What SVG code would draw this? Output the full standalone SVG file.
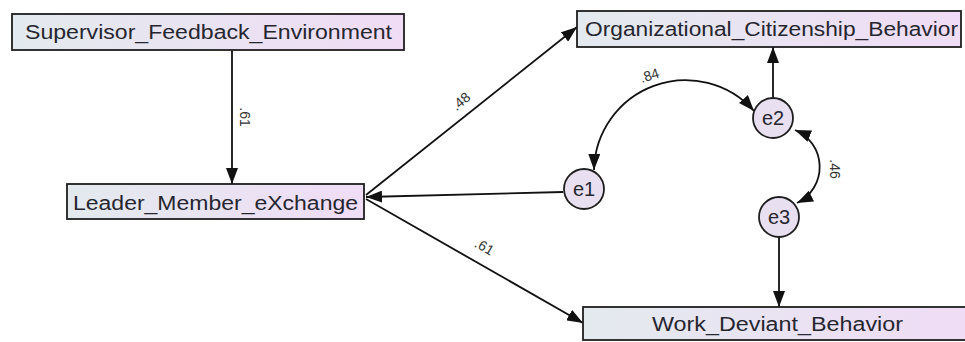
<svg xmlns="http://www.w3.org/2000/svg" width="965" height="342" viewBox="0 0 965 342">
  <style>
    .box { stroke: #1e1e1e; stroke-width: 1.8; }
    .lbl { font-family: "Liberation Sans", Arial, sans-serif; font-size: 20px; fill: #262630; }
    .err { fill: #e8dff0; stroke: #1e1e1e; stroke-width: 1.8; }
    .elbl { font-family: "Liberation Sans", Arial, sans-serif; font-size: 20px; fill: #262630; text-anchor: middle; }
    .edge { fill: none; stroke: #111; stroke-width: 1.8; }
    .coef { font-family: "Liberation Sans", Arial, sans-serif; font-size: 14px; fill: #333; text-anchor: middle; }
  </style>
  <defs>
    <linearGradient id="boxFill" x1="0" y1="0" x2="1" y2="0">
      <stop offset="0" stop-color="#e3eaee"/>
      <stop offset="1" stop-color="#f0dcf6"/>
    </linearGradient>
    <marker id="arrow" viewBox="0 0 16 12" refX="16" refY="6" markerWidth="16" markerHeight="12" markerUnits="userSpaceOnUse" orient="auto-start-reverse">
      <path d="M0,0 L16,6 L0,12 Z" fill="#111"/>
    </marker>
  </defs>

  <rect width="965" height="342" fill="#ffffff"/>

  <!-- connectors -->
  <g id="connectors">
    <path class="edge" d="M232,50 L232,184" marker-end="url(#arrow)"/>
    <path class="edge" d="M366,195 L577,27" marker-end="url(#arrow)"/>
    <path class="edge" d="M563,192 L366,197" marker-end="url(#arrow)"/>
    <path class="edge" d="M366,199 L583,323" marker-end="url(#arrow)"/>
    <path class="edge" d="M773,98 L773,47" marker-end="url(#arrow)"/>
    <path class="edge" d="M779,237 L779,307" marker-end="url(#arrow)"/>
    <path class="edge" d="M594,170 A91.5,91.5 0 0 1 754,111" marker-start="url(#arrow)" marker-end="url(#arrow)"/>
    <path class="edge" d="M795,130 A40,40 0 0 1 797,203" marker-start="url(#arrow)" marker-end="url(#arrow)"/>

    <text class="coef" transform="translate(240,117) rotate(90)">.61</text>
    <text class="coef" transform="translate(464,105) rotate(-40)">.48</text>
    <text class="coef" transform="translate(482,251) rotate(30)">.61</text>
    <text class="coef" transform="translate(651,80) rotate(-18)">.84</text>
    <text class="coef" transform="translate(830,169) rotate(90)">.46</text>
  </g>

  <!-- observed variables -->
  <g id="sfe">
    <rect class="box" x="12" y="14" width="392" height="36" fill="url(#boxFill)"/>
    <text class="lbl" x="25" y="39" textLength="367" lengthAdjust="spacingAndGlyphs">Supervisor_Feedback_Environment</text>
  </g>
  <g id="ocb">
    <rect class="box" x="577" y="11" width="384" height="36" fill="url(#boxFill)"/>
    <text class="lbl" x="585" y="36" textLength="373" lengthAdjust="spacingAndGlyphs">Organizational_Citizenship_Behavior</text>
  </g>
  <g id="lmx">
    <rect class="box" x="67" y="184" width="297" height="35" fill="url(#boxFill)"/>
    <text class="lbl" x="73" y="210" textLength="285" lengthAdjust="spacingAndGlyphs">Leader_Member_eXchange</text>
  </g>
  <g id="wdb">
    <rect class="box" x="583" y="307" width="390" height="33" fill="url(#boxFill)"/>
    <text class="lbl" x="652" y="331" textLength="251" lengthAdjust="spacingAndGlyphs">Work_Deviant_Behavior</text>
  </g>

  <!-- error terms -->
  <g id="e1">
    <circle class="err" cx="584" cy="189" r="20"/>
    <text class="elbl" x="584" y="196">e1</text>
  </g>
  <g id="e2">
    <circle class="err" cx="773" cy="118" r="20"/>
    <text class="elbl" x="773" y="125">e2</text>
  </g>
  <g id="e3">
    <circle class="err" cx="779" cy="217" r="20"/>
    <text class="elbl" x="779" y="224">e3</text>
  </g>
</svg>
